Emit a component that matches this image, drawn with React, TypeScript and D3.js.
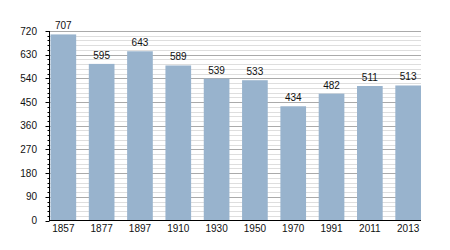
import React from "react";
import * as d3 from "d3";

const years = ["1857", "1877", "1897", "1910", "1930", "1950", "1970", "1991", "2011", "2013"];
const population = [707, 595, 643, 589, 539, 533, 434, 482, 511, 513];
const majorTicks = [0, 90, 180, 270, 360, 450, 540, 630, 720];
const minorStep = 18;

export default function App() {
  const W = 450, H = 250;
  const left = 49.5, right = 421, top = 31, bottom = 220.5;
  const x = d3.scaleBand<string>().domain(years).range([left + 1, right]).paddingInner(0.33).paddingOuter(0);
  const y = d3.scaleLinear().domain([0, 720]).range([bottom, top]);
  const minor = d3.range(0, 720 + 0.001, minorStep).filter((v) => v % 90 !== 0);
  const font = "'Liberation Sans', Arial, sans-serif";
  return (
    <svg width={W} height={H} style={{ position: "absolute", left: 0, top: 0, background: "#fff" }} fontFamily={font}>
      {minor.map((v) => (
        <line key={"m" + v} x1={left} x2={right} y1={Math.round(y(v)) + 0.5} y2={Math.round(y(v)) + 0.5} stroke="#dedede" strokeWidth={1} />
      ))}
      {majorTicks.filter((v) => v > 0).map((v) => (
        <line key={"M" + v} x1={left} x2={right} y1={Math.round(y(v)) + 0.5} y2={Math.round(y(v)) + 0.5} stroke="#aaaaaa" strokeWidth={1} />
      ))}
      {years.map((yr, i) => (
        <rect key={yr} x={x(yr)} y={y(population[i])} width={x.bandwidth()} height={bottom - y(population[i])} fill="#98b3cd" />
      ))}
      {years.map((yr, i) => (
        <text key={"v" + yr} x={(x(yr) as number) + x.bandwidth() / 2} y={y(population[i]) - 5} textAnchor="middle" fontSize={10} fill="#111">
          {population[i]}
        </text>
      ))}
      {minor.map((v) => (
        <line key={"mt" + v} x1={left - 2} x2={left} y1={Math.round(y(v)) + 0.5} y2={Math.round(y(v)) + 0.5} stroke="#000" />
      ))}
      {majorTicks.map((v) => (
        <g key={"t" + v}>
          <line x1={left - 4} x2={left} y1={Math.round(y(v)) + 0.5} y2={Math.round(y(v)) + 0.5} stroke="#000" />
          <text x={37} y={y(v) + 3.5} textAnchor="end" fontSize={10} fill="#111">{v}</text>
        </g>
      ))}
      <line x1={left} x2={left} y1={top} y2={bottom + 0.5} stroke="#000" />
      <line x1={left} x2={right} y1={bottom} y2={bottom} stroke="#000" />
      {years.map((yr) => (
        <text key={"x" + yr} x={(x(yr) as number) + x.bandwidth() / 2} y={232} textAnchor="middle" fontSize={10} fill="#111">
          {yr}
        </text>
      ))}
    </svg>
  );
}
